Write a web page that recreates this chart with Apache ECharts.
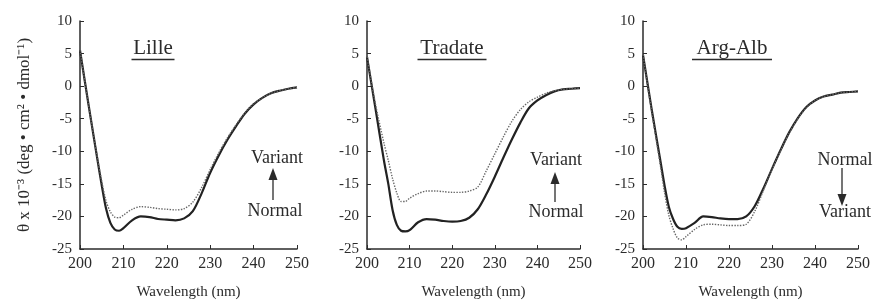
<!DOCTYPE html>
<html>
<head>
<meta charset="utf-8">
<script src="https://cdn.jsdelivr.net/npm/echarts@6/dist/echarts.min.js"></script>
<style>
	html, body {margin: 0; padding: 0; background: #fff;}
	#main {width: 875px; height: 308px;}
</style>
</head>
<body>
<div id="main"></div>
<script>
// wavelength (nm) shared by every curve
const wavelength = [200, 202, 204, 205, 206, 207, 208, 209, 210, 212, 214, 216, 218, 220, 222, 224, 226, 228, 230, 232, 234, 236, 238, 240, 242, 244, 246, 248, 250];

const panels = ['Lille', 'Tradate', 'Arg-Alb'];

// theta x 10^-3
const lilleNormal = [5.5, -3, -11.2, -15.2, -18.8, -21, -22, -22.2, -21.8, -20.6, -20.0, -20.1, -20.4, -20.5, -20.6, -20.3, -19.2, -16.5, -13.3, -10.6, -8.2, -6.1, -4.2, -2.8, -1.8, -1.1, -0.7, -0.4, -0.2];
const lilleVariant = [5.5, -3, -11, -14.6, -17.6, -19.3, -20.1, -20.2, -19.8, -18.9, -18.5, -18.6, -18.8, -18.9, -19.0, -18.8, -17.8, -15.6, -12.8, -10.2, -7.9, -5.9, -4.1, -2.7, -1.8, -1.1, -0.7, -0.4, -0.2];

const tradateNormal = [4.5, -3.5, -11.5, -15, -19, -21.3, -22.2, -22.3, -22.1, -20.9, -20.4, -20.5, -20.7, -20.8, -20.7, -20.2, -18.9, -16.6, -13.9, -11, -8.2, -5.6, -3.4, -2.2, -1.4, -0.8, -0.5, -0.4, -0.3];
const tradateVariant = [4.5, -2.8, -8.8, -11.4, -14.2, -16.4, -17.7, -17.7, -17.2, -16.5, -16.1, -16.1, -16.2, -16.3, -16.3, -16.1, -15.5, -13, -10.4, -7.8, -5.4, -3.6, -2.4, -1.7, -1.1, -0.7, -0.5, -0.4, -0.3];

const argAlbNormal = [4.8, -3.5, -11.3, -15.2, -18.5, -20.4, -21.6, -21.9, -21.8, -21.0, -20.0, -20.1, -20.3, -20.4, -20.4, -20.0, -18.4, -15.7, -12.7, -9.8, -7.1, -4.9, -3.2, -2.2, -1.6, -1.3, -1.0, -0.9, -0.8];
const argAlbVariant = [4.8, -3.8, -12, -16.3, -19.8, -21.9, -23.3, -23.6, -23.1, -22.0, -21.3, -21.2, -21.3, -21.4, -21.4, -21.2, -19.2, -16.0, -12.8, -9.9, -7.2, -5.0, -3.3, -2.2, -1.6, -1.3, -1.0, -0.9, -0.8];

const normalData = [lilleNormal, tradateNormal, argAlbNormal];
const variantData = [lilleVariant, tradateVariant, argAlbVariant];

const serif = '"Liberation Serif", "Times New Roman", serif';
const ink = '#2b2b2b';

const grids = [
	{left: 80, width: 217, top: 21, bottom: 59},
	{left: 367, width: 213, top: 21, bottom: 59},
	{left: 643, width: 215, top: 21, bottom: 59}
];

const pairs = (ys) => wavelength.map((x, i) => [x, ys[i]]);

const xAxes = grids.map((g, i) => ({
	type: 'value',
	gridIndex: i,
	min: 200,
	max: 250,
	interval: 10,
	name: 'Wavelength (nm)',
	nameLocation: 'middle',
	nameGap: 36,
	nameTextStyle: {fontFamily: serif, fontSize: 15, color: ink},
	axisLine: {onZero: false, lineStyle: {color: ink, width: 1.5}},
	axisTick: {inside: true, length: 4, lineStyle: {color: ink}},
	axisLabel: {fontFamily: serif, fontSize: 16, color: ink, margin: 7},
	splitLine: {show: false}
}));

const yAxes = grids.map((g, i) => ({
	type: 'value',
	gridIndex: i,
	min: -25,
	max: 10,
	interval: 5,
	name: i === 0 ? 'θ x 10⁻³ (deg • cm² • dmol⁻¹)' : '',
	nameLocation: 'middle',
	nameGap: 47,
	nameTextStyle: {fontFamily: serif, fontSize: 17, color: ink},
	axisLine: {show: true, onZero: false, lineStyle: {color: ink, width: 1.5}},
	axisTick: {show: true, inside: true, length: 4, lineStyle: {color: ink}},
	axisLabel: {fontFamily: serif, fontSize: 15, color: ink, margin: 8},
	splitLine: {show: false}
}));

const series = [];
panels.forEach((p, i) => {
	series.push({
		name: p + ' Normal',
		type: 'line',
		xAxisIndex: i,
		yAxisIndex: i,
		data: pairs(normalData[i]),
		smooth: 0.3,
		showSymbol: false,
		lineStyle: {color: '#222', width: 2.2}
	});
	series.push({
		name: p + ' Variant',
		type: 'line',
		xAxisIndex: i,
		yAxisIndex: i,
		data: pairs(variantData[i]),
		smooth: 0.3,
		showSymbol: false,
		lineStyle: {color: '#666', width: 1.4, type: 'dotted'}
	});
});

// titles with underline
const titleCenters = [153, 452, 732];
const titleWidths = [43, 69, 80];
const titleGraphics = [];
panels.forEach((p, i) => {
	titleGraphics.push({
		type: 'text',
		x: titleCenters[i],
		y: 48,
		style: {text: p, fontFamily: serif, fontSize: 21, fill: ink, align: 'center', verticalAlign: 'middle'}
	});
	titleGraphics.push({
		type: 'line',
		shape: {x1: titleCenters[i] - titleWidths[i] / 2, y1: 59.5, x2: titleCenters[i] + titleWidths[i] / 2, y2: 59.5},
		style: {stroke: ink, lineWidth: 1.5}
	});
});

// Normal / Variant labels with arrows
const note = (text, x, y) => ({
	type: 'text',
	x: x,
	y: y,
	style: {text: text, fontFamily: serif, fontSize: 18, fill: ink, align: 'center', verticalAlign: 'middle'}
});
const arrow = (x, yTail, yTip) => {
	const dir = yTip < yTail ? 1 : -1;
	return [
		{type: 'line', shape: {x1: x, y1: yTail, x2: x, y2: yTip + dir * 10}, style: {stroke: ink, lineWidth: 1.3}},
		{type: 'polygon', shape: {points: [[x, yTip], [x - 4.5, yTip + dir * 12], [x + 4.5, yTip + dir * 12]]}, style: {fill: ink}}
	];
};

const notes = [
	note('Variant', 277, 158), note('Normal', 275, 211),
	...arrow(273, 200, 168),
	note('Variant', 556, 160), note('Normal', 556, 212),
	...arrow(555, 202, 172),
	note('Normal', 845, 160), note('Variant', 845, 212),
	...arrow(842, 168, 206)
];

const myCharts = echarts.init(document.querySelector('#main'));

const option = {
	animation: false,
	backgroundColor: '#fff',
	grid: grids,
	xAxis: xAxes,
	yAxis: yAxes,
	series: series,
	graphic: titleGraphics.concat(notes)
};

myCharts.setOption(option);
</script>
</body>
</html>
